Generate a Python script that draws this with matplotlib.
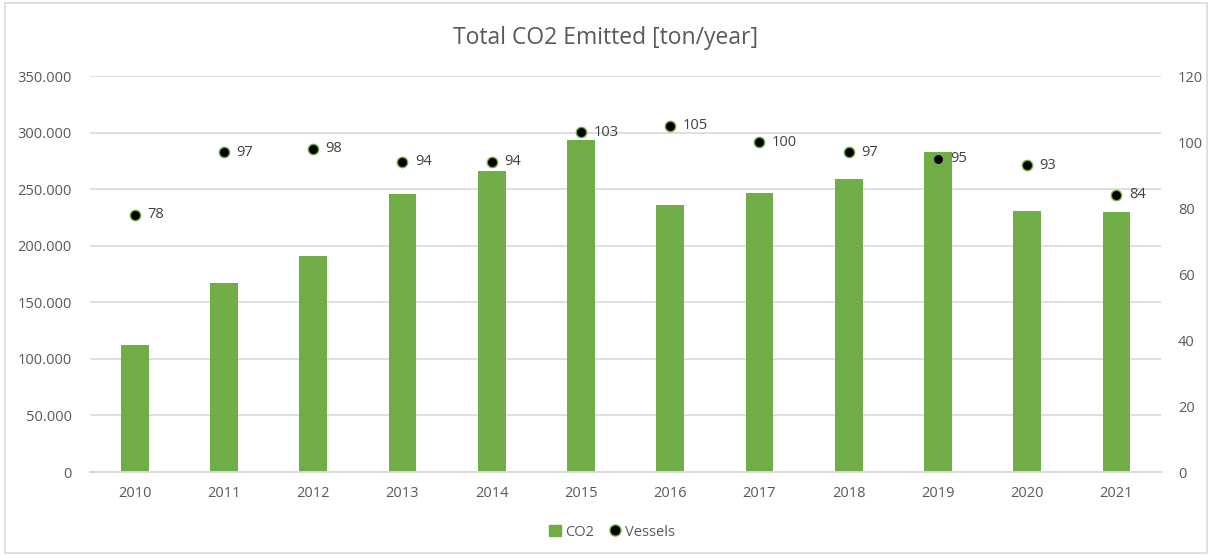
import matplotlib.pyplot as plt
from matplotlib.patches import Rectangle
from matplotlib.lines import Line2D
from matplotlib.patches import Patch
import matplotlib.ticker as mticker

years = ['2010', '2011', '2012', '2013', '2014', '2015',
         '2016', '2017', '2018', '2019', '2020', '2021']
co2 = [112000, 167500, 191000, 245500, 266500, 294000,
       236500, 247000, 259000, 283000, 231000, 230000]
vessels = [78, 97, 98, 94, 94, 103, 105, 100, 97, 95, 93, 84]

green = '#70AD47'
grey = '#595959'

plt.rcParams['font.family'] = ['Open Sans', 'DejaVu Sans']

fig = plt.figure(figsize=(12.12, 5.56), dpi=100)
ax = fig.add_axes([0.0743, 0.151, 0.8837, 0.712])
ax2 = ax.twinx()

x = range(len(years))
ax.bar(x, co2, width=0.31, color=green, zorder=2)
ax.set_xlim(-0.5, len(years) - 0.5)
ax.set_ylim(0, 350000)
ax.set_yticks(range(0, 350001, 50000))
ax.yaxis.set_major_formatter(mticker.FuncFormatter(
    lambda v, p: '0' if v == 0 else f'{int(v):,}'.replace(',', '.')))
ax.set_xticks(list(x))
ax.set_xticklabels(years)
ax.grid(axis='y', color='#d9d9d9', linewidth=1.2, zorder=0)
ax.set_axisbelow(True)

ax2.scatter(x, vessels, s=55, color='black', edgecolors=green, linewidths=1.0, zorder=3)
for xi, v in zip(x, vessels):
    ax2.annotate(str(v), (xi, v), xytext=(9, 0), textcoords='offset points',
                 va='center', ha='left', fontsize=10.5, color='#404040')
ax2.set_ylim(0, 120)
ax2.set_yticks(range(0, 121, 20))

for a in (ax, ax2):
    for s in ('top', 'left', 'right'):
        a.spines[s].set_visible(False)
    a.spines['bottom'].set_color('#d9d9d9')
    a.spines['bottom'].set_linewidth(1.2)
    a.tick_params(length=0, labelsize=10.5, colors=grey)
ax.tick_params(axis='y', pad=13)
ax2.tick_params(axis='y', pad=12)
ax.tick_params(axis='x', pad=10)

fig.text(0.5, 0.932, 'Total CO2 Emitted [ton/year]', ha='center', va='center',
         fontsize=16.5, color=grey)

handles = [Patch(color=green, label='CO2'),
           Line2D([], [], marker='o', linestyle='none', markerfacecolor='black',
                  markeredgecolor=green, markersize=8, label='Vessels')]
fig.legend(handles=handles, loc='center', bbox_to_anchor=(0.505, 0.043), ncol=2,
           frameon=False, fontsize=10.5, labelcolor=grey, handlelength=0.8,
           handletextpad=0.3, columnspacing=1.0)

fig.add_artist(Rectangle((0.004, 0.005), 0.992, 0.99, transform=fig.transFigure,
                         fill=False, edgecolor='#d9d9d9', linewidth=1.2))

fig.savefig('out.png', dpi=100)
